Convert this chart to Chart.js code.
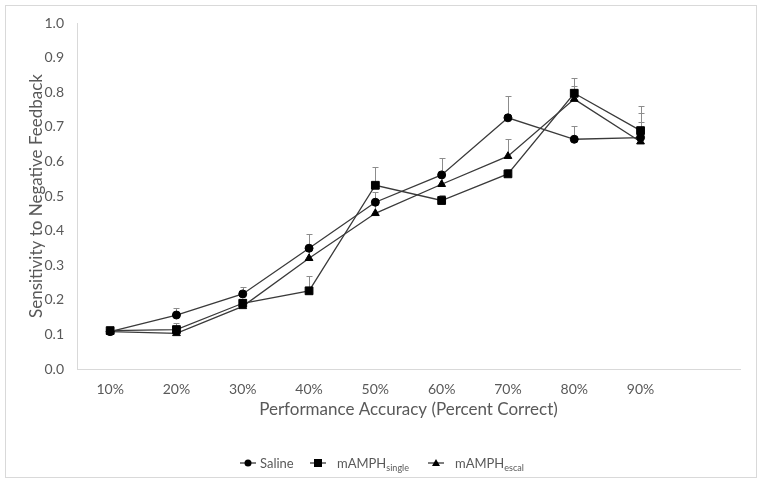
<!DOCTYPE html>
<html>
<head>
<meta charset="utf-8">
<script src="https://cdn.jsdelivr.net/npm/chart.js@4.4.1/dist/chart.umd.min.js"></script>
<style>
  html,body{margin:0;padding:0;background:#fff;}
  #wrap{position:relative;width:764px;height:485px;}
  #frame{position:absolute;left:5px;top:5px;width:752px;height:473px;border:1px solid #d9d9d9;box-sizing:border-box;}
  canvas{position:absolute;left:0;top:0;}
  #legend{position:absolute;left:0;top:453px;width:764px;height:20px;font-family:Lato,"Open Sans",sans-serif;font-size:13px;color:#595959;}
  .item{position:absolute;top:0;height:20px;line-height:20px;white-space:nowrap;}
  .item svg{position:absolute;left:0;top:5px;}
  .item span{position:absolute;top:0;}
  sub{font-size:9px;vertical-align:-3px;}
</style>
</head>
<body>
<div id="wrap">
  <div id="frame"></div>
  <canvas id="chart" width="764" height="485"></canvas>
  <div id="legend"></div>
</div>
<script>
// categories (last one is an empty slot, like the original)
let categories=['10%','20%','30%','40%','50%','60%','70%','80%','90%',''];

let saline=[0.108,0.156,0.217,0.349,0.482,0.561,0.726,0.664,0.669];
let single=[0.111,0.114,0.190,0.226,0.531,0.487,0.564,0.797,0.689];
let escal=[0.108,0.103,0.181,0.320,0.450,0.534,0.615,0.780,0.657];

// upper error bars (SEM)
let salineErr=[0.004,0.019,0.021,0.040,0.030,0.048,0.063,0.039,0.046];
let singleErr=[0.004,0.020,0.012,0.043,0.052,0.015,0.015,0.043,0.071];
let escalErr=[0.004,0.008,0.012,0.030,0.030,0.030,0.051,0.039,0.082];

let yTicks=[0,0.1,0.2,0.3,0.4,0.5,0.6,0.7,0.8,0.9,1.0];

const lineCol='#3a3a3a';
const errCol='#8c8c8c';
const fontFam='Lato, "Open Sans", sans-serif';

// error bars drawn through the chart scales
const errorBars={
  id:'errorBars',
  beforeDatasetsDraw(chart){
    const ctx=chart.ctx;
    const x=chart.scales.x, y=chart.scales.y;
    ctx.save();
    ctx.strokeStyle=errCol;
    ctx.lineWidth=1;
    chart.data.datasets.forEach(ds=>{
      ds.data.forEach((v,i)=>{
        const e=ds.errors[i];
        if(!e) return;
        const px=Math.round(x.getPixelForValue(i))+0.5;
        const p0=y.getPixelForValue(v);
        const p1=Math.round(y.getPixelForValue(v+e))+0.5;
        ctx.beginPath();
        ctx.moveTo(px,p0);
        ctx.lineTo(px,p1);
        ctx.moveTo(px-3,p1);
        ctx.lineTo(px+3,p1);
        ctx.stroke();
      });
    });
    ctx.restore();
  }
};

function mkSet(label,data,errors,style,radius){
  return {
    label:label,
    data:data,
    errors:errors,
    borderColor:lineCol,
    borderWidth:1.3,
    pointStyle:style,
    pointRadius:radius,
    pointBackgroundColor:'#000',
    pointBorderColor:'#000',
    pointBorderWidth:1,
    tension:0,
    fill:false
  };
}

new Chart(document.getElementById('chart'),{
  type:'line',
  data:{
    labels:categories,
    datasets:[
      mkSet('Saline',saline,salineErr,'circle',4),
      mkSet('mAMPH single',single,singleErr,'rect',5.5),
      mkSet('mAMPH escal',escal,escalErr,'triangle',4.5)
    ]
  },
  options:{
    responsive:false,
    animation:false,
    layout:{padding:{left:5,right:24,top:23,bottom:45}},
    plugins:{legend:{display:false},tooltip:{enabled:false}},
    scales:{
      x:{
        offset:true,
        grid:{display:false},
        border:{display:true,color:'#d9d9d9',width:1},
        ticks:{color:'#595959',font:{family:fontFam,size:14},padding:4,maxRotation:0},
        title:{display:true,text:'Performance Accuracy (Percent Correct)',color:'#595959',
          font:{family:fontFam,size:17},padding:{top:0,bottom:20}},
        afterFit(s){s.height=71;}
      },
      y:{
        min:0,max:1,
        afterBuildTicks(s){s.ticks=yTicks.map(v=>({value:v}));},
        grid:{display:false},
        border:{display:true,color:'#d9d9d9',width:1},
        ticks:{color:'#595959',font:{family:fontFam,size:14},padding:5,
          callback:v=>v.toFixed(1)},
        title:{display:true,text:'Sensitivity to Negative Feedback',color:'#595959',
          font:{family:fontFam,size:17},padding:{top:21,bottom:0}},
        afterFit(s){s.width=72;}
      }
    }
  },
  plugins:[errorBars]
});

// legend with subscripts, as real text
const legendItems=[
  {x:240,marker:'circle',name:'Saline',sub:''},
  {x:310,marker:'rect',name:'mAMPH',sub:'single'},
  {x:428,marker:'triangle',name:'mAMPH',sub:'escal'}
];
function markerSvg(kind){
  let m='';
  if(kind=='circle') m='<circle cx="8" cy="5" r="3.5" fill="#000"/>';
  if(kind=='rect') m='<rect x="4" y="1" width="8" height="8" fill="#000"/>';
  if(kind=='triangle') m='<polygon points="8,1 12,8 4,8" fill="#000"/>';
  return '<svg width="16" height="10"><line x1="0" y1="5" x2="16" y2="5" stroke="'+lineCol+'" stroke-width="1.3"/>'+m+'</svg>';
}
const lg=document.getElementById('legend');
legendItems.forEach(it=>{
  const d=document.createElement('div');
  d.className='item';
  d.style.left=it.x+'px';
  d.innerHTML=markerSvg(it.marker)+'<span style="left:'+(it.marker=='circle'?20:27)+'px">'+it.name+(it.sub?'<sub>'+it.sub+'</sub>':'')+'</span>';
  lg.appendChild(d);
});
</script>
</body>
</html>
